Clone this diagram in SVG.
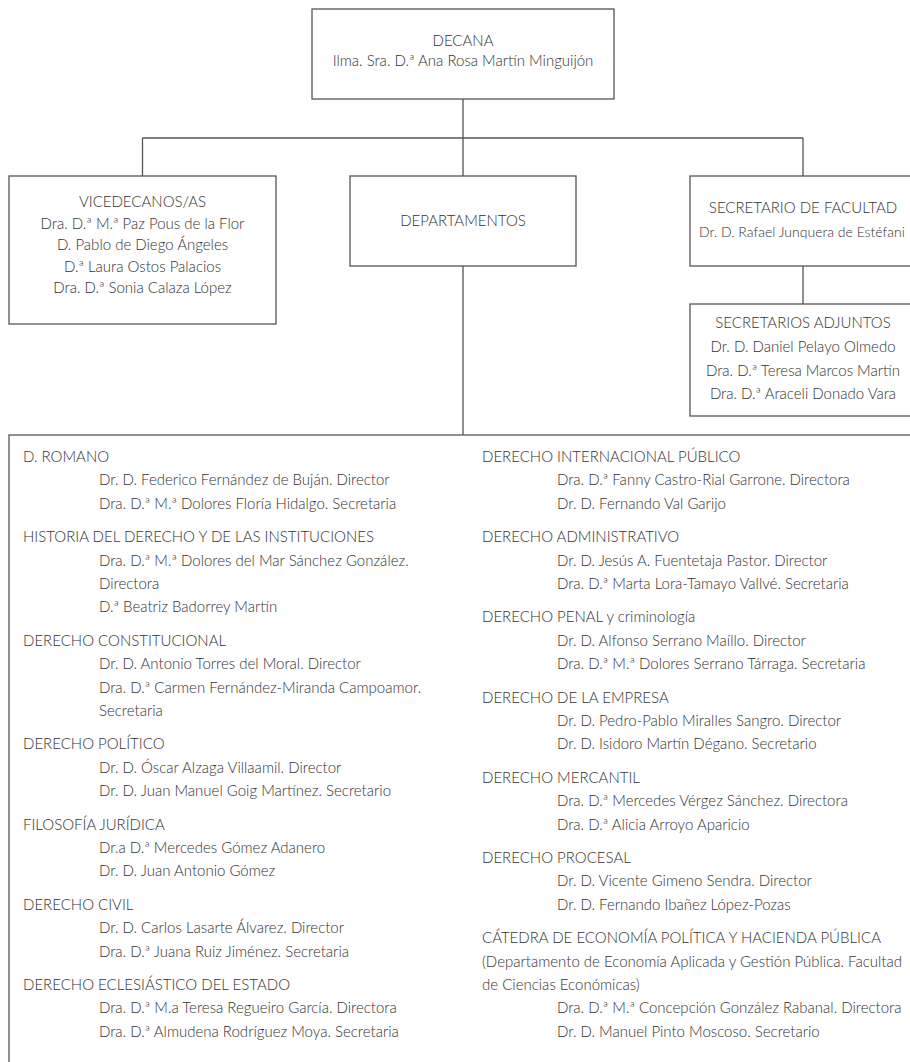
<svg xmlns="http://www.w3.org/2000/svg" width="910" height="1062" viewBox="0 0 910 1062">
<style>
.box{fill:#fff;stroke:#555;stroke-width:1.3}
.conn{fill:none;stroke:#555;stroke-width:1.3}
text{font-family:Lato,"Liberation Sans",sans-serif;font-weight:300;font-size:15px;fill:#333}
.c{text-anchor:middle}
.s{font-size:14px}
</style>
<rect width="910" height="1062" fill="#fff"/>
<g id="connectors">
<path class="conn" d="M463 99V176M142.5 138H803M142.5 138V176M803 138V176M803 266V304M463 266V435"/>
</g>
<g id="decana">
<rect class="box" x="312" y="9" width="302" height="90"/>
<text class="c" x="463" y="46">DECANA</text>
<text class="c" x="463" y="66">Ilma. Sra. D.ª Ana Rosa Martín Minguijón</text>
</g>
<g id="vicedecanos">
<rect class="box" x="9" y="176" width="267" height="148"/>
<text class="c" x="142.5" y="207">VICEDECANOS/AS</text>
<text class="c" x="142.5" y="228.5">Dra. D.ª M.ª Paz Pous de la Flor</text>
<text class="c" x="142.5" y="250">D. Pablo de Diego Ángeles</text>
<text class="c" x="142.5" y="271.5">D.ª Laura Ostos Palacios</text>
<text class="c" x="142.5" y="293">Dra. D.ª Sonia Calaza López</text>
</g>
<g id="departamentos">
<rect class="box" x="350" y="176" width="226" height="90"/>
<text class="c" x="463" y="225.5">DEPARTAMENTOS</text>
</g>
<g id="secretario">
<rect class="box" x="690" y="176" width="240" height="90"/>
<text class="c" x="803" y="213">SECRETARIO DE FACULTAD</text>
<text class="c s" x="802" y="237">Dr. D. Rafael Junquera de Estéfani</text>
</g>
<g id="adjuntos">
<rect class="box" x="690" y="304" width="240" height="112"/>
<text class="c" x="803" y="328">SECRETARIOS ADJUNTOS</text>
<text class="c" x="803" y="352">Dr. D. Daniel Pelayo Olmedo</text>
<text class="c" x="803" y="376">Dra. D.ª Teresa Marcos Martín</text>
<text class="c" x="803" y="399">Dra. D.ª Araceli Donado Vara</text>
</g>
<g id="lista-departamentos">
<rect class="box" x="9" y="435" width="930" height="700"/>
<text x="23" y="462">D. ROMANO</text>
<text x="99" y="485.4">Dr. D. Federico Fernández de Buján. Director</text>
<text x="99" y="508.8">Dra. D.ª M.ª Dolores Floría Hidalgo. Secretaria</text>
<text x="23" y="542.2">HISTORIA DEL DERECHO Y DE LAS INSTITUCIONES</text>
<text x="99" y="565.6">Dra. D.ª M.ª Dolores del Mar Sánchez González.</text>
<text x="99" y="589">Directora</text>
<text x="99" y="612.4">D.ª Beatriz Badorrey Martín</text>
<text x="23" y="645.8">DERECHO CONSTITUCIONAL</text>
<text x="99" y="669.2">Dr. D. Antonio Torres del Moral. Director</text>
<text x="99" y="692.6">Dra. D.ª Carmen Fernández-Miranda Campoamor.</text>
<text x="99" y="716">Secretaria</text>
<text x="23" y="749.4">DERECHO POLÍTICO</text>
<text x="99" y="772.8">Dr. D. Óscar Alzaga Villaamil. Director</text>
<text x="99" y="796.2">Dr. D. Juan Manuel Goig Martínez. Secretario</text>
<text x="23" y="829.6">FILOSOFÍA JURÍDICA</text>
<text x="99" y="853">Dr.a D.ª Mercedes Gómez Adanero</text>
<text x="99" y="876.4">Dr. D. Juan Antonio Gómez</text>
<text x="23" y="909.8">DERECHO CIVIL</text>
<text x="99" y="933.2">Dr. D. Carlos Lasarte Álvarez. Director</text>
<text x="99" y="956.6">Dra. D.ª Juana Ruiz Jiménez. Secretaria</text>
<text x="23" y="990">DERECHO ECLESIÁSTICO DEL ESTADO</text>
<text x="99" y="1013.4">Dra. D.ª M.a Teresa Regueiro García. Directora</text>
<text x="99" y="1036.8">Dra. D.ª Almudena Rodríguez Moya. Secretaria</text>
<text x="482" y="462">DERECHO INTERNACIONAL PÚBLICO</text>
<text x="557" y="485.4">Dra. D.ª Fanny Castro-Rial Garrone. Directora</text>
<text x="557" y="508.8">Dr. D. Fernando Val Garijo</text>
<text x="482" y="542.2">DERECHO ADMINISTRATIVO</text>
<text x="557" y="565.6">Dr. D. Jesús A. Fuentetaja Pastor. Director</text>
<text x="557" y="589">Dra. D.ª Marta Lora-Tamayo Vallvé. Secretaria</text>
<text x="482" y="622.4">DERECHO PENAL y criminología</text>
<text x="557" y="645.8">Dr. D. Alfonso Serrano Maíllo. Director</text>
<text x="557" y="669.2">Dra. D.ª M.ª Dolores Serrano Tárraga. Secretaria</text>
<text x="482" y="702.6">DERECHO DE LA EMPRESA</text>
<text x="557" y="726">Dr. D. Pedro-Pablo Miralles Sangro. Director</text>
<text x="557" y="749.4">Dr. D. Isidoro Martín Dégano. Secretario</text>
<text x="482" y="782.8">DERECHO MERCANTIL</text>
<text x="557" y="806.2">Dra. D.ª Mercedes Vérgez Sánchez. Directora</text>
<text x="557" y="829.6">Dra. D.ª Alicia Arroyo Aparicio</text>
<text x="482" y="863">DERECHO PROCESAL</text>
<text x="557" y="886.4">Dr. D. Vicente Gimeno Sendra. Director</text>
<text x="557" y="909.8">Dr. D. Fernando Ibañez López-Pozas</text>
<text x="482" y="943.2">CÁTEDRA DE ECONOMÍA POLÍTICA Y HACIENDA PÚBLICA</text>
<text x="482" y="966.6">(Departamento de Economía Aplicada y Gestión Pública. Facultad</text>
<text x="482" y="990">de Ciencias Económicas)</text>
<text x="557" y="1013.4">Dra. D.ª M.ª Concepción González Rabanal. Directora</text>
<text x="557" y="1036.8">Dr. D. Manuel Pinto Moscoso. Secretario</text>
</g>
</svg>
